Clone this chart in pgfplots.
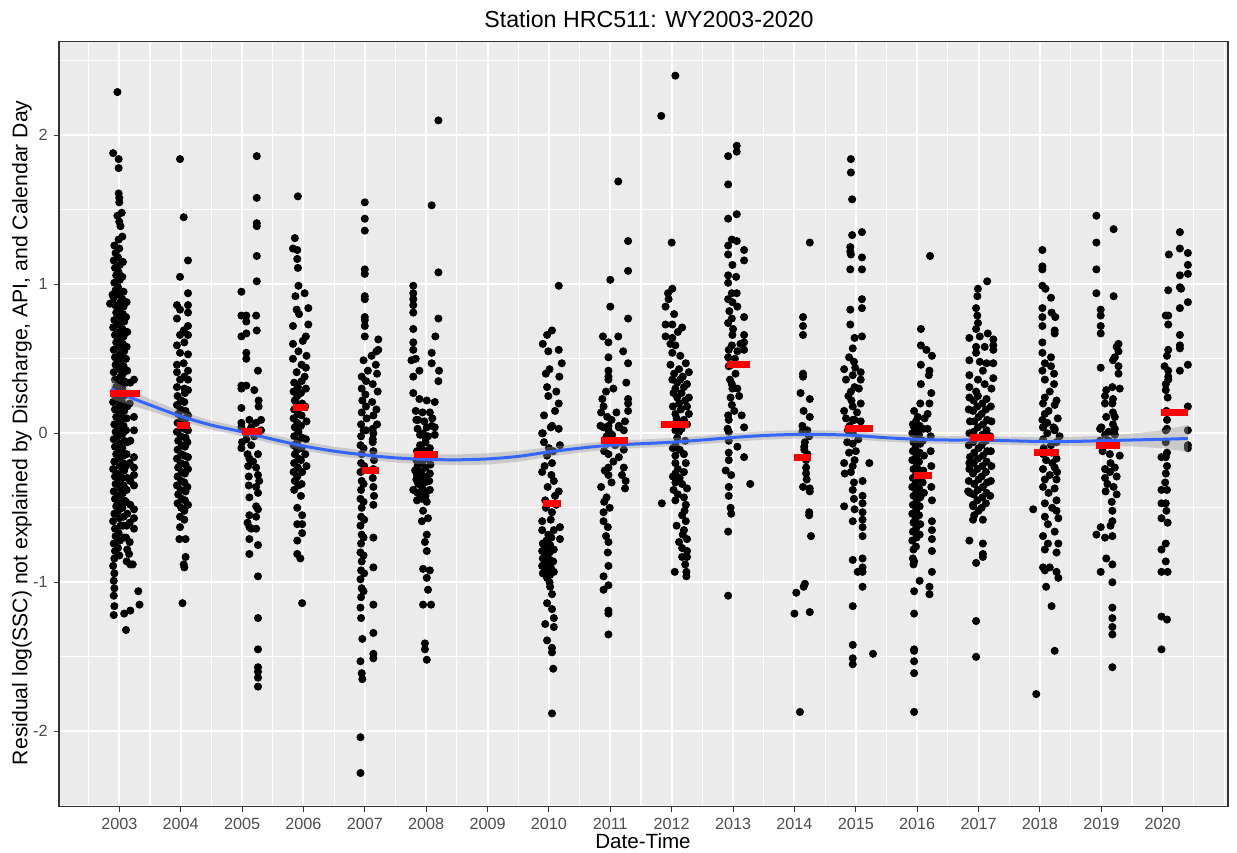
\documentclass[border=0pt]{standalone}
\usepackage{pgfplots}
\pgfplotsset{compat=1.18}
\usepackage{fontspec}
\setmainfont{Liberation Sans}
\definecolor{panelbg}{HTML}{EBEBEB}
\definecolor{gg30}{HTML}{4D4D4D}
\definecolor{gg20}{HTML}{333333}
\definecolor{ggblue}{HTML}{3366FF}
\definecolor{bandgrey}{HTML}{999999}
\pgfplotsset{pts/.style={only marks, mark=*, mark size=1.8pt, mark options={draw=black, fill=black}, forget plot},
  med/.style={red, line width=3.5pt, forget plot}}
\begin{document}
\begin{tikzpicture}
\path[use as bounding box] (-29.5pt,-22.65pt) rectangle (589pt,403.35pt);
\begin{axis}[
  at={(0,0)}, anchor=south west,
  scale only axis, width=584.5pt, height=382.5pt,
  xmin=2002.018, xmax=2021.064, ymin=-2.506, ymax=2.628,
  clip marker paths=true,
  axis background/.style={fill=panelbg},
  xtick={2003,2004,2005,2006,2007,2008,2009,2010,2011,2012,2013,2014,2015,2016,2017,2018,2019,2020},
  xticklabels={2003,2004,2005,2006,2007,2008,2009,2010,2011,2012,2013,2014,2015,2016,2017,2018,2019,2020},
  minor xtick={2002.5,2003.5,2004.5,2005.5,2006.5,2007.5,2008.5,2009.5,2010.5,2011.5,2012.5,2013.5,2014.5,2015.5,2016.5,2017.5,2018.5,2019.5,2020.5,2021},
  ytick={-2,-1,0,1,2}, yticklabels={-2,-1,0,1,2},
  minor ytick={-2.5,-1.5,-0.5,0.5,1.5,2.5},
  grid=both,
  major grid style={white, line width=1pt},
  minor grid style={white, line width=0.55pt},
  tick pos=left, tick align=outside,
  major tick length=2.5pt, minor tick length=0pt,
  tick style={gg20, line width=0.5pt},
  axis line style={gg20, line width=0.7pt},
  tick label style={font=\fontsize{8.1}{9.5}\selectfont, text=gg30},
  xticklabel style={anchor=north, inner sep=0pt, yshift=-3pt},
  yticklabel style={anchor=east, inner sep=0pt, xshift=-3pt},
]
% ---- 2003
\addplot[pts] table[row sep=\\] {x y\\
2002.97 2.29\\ 2002.90 1.88\\ 2002.99 1.84\\ 2002.99 1.78\\ 2002.99 1.61\\ 2003.00 1.58\\ 2003.00 1.55\\ 2003.04 1.48\\ 2002.97 1.46\\ 2003.00 1.42\\ 2003.02 1.39\\ 2003.05 1.32\\ 2002.99 1.30\\ 2002.85 0.87\\ 2002.89 0.93\\
2002.92 1.26\\ 2002.94 1.21\\ 2002.91 1.16\\ 2002.93 1.11\\ 2002.95 1.06\\ 2002.92 1.01\\ 2002.94 0.96\\ 2002.91 0.91\\ 2002.93 0.86\\ 2002.95 0.81\\ 2002.92 0.76\\ 2002.90 0.71\\ 2002.93 0.66\\ 2002.95 0.61\\ 2002.91 0.56\\ 2002.93 0.51\\ 2002.94 0.46\\ 2002.91 0.41\\ 2002.93 0.36\\ 2002.95 0.31\\ 2002.92 0.26\\ 2002.90 0.21\\ 2002.93 0.16\\ 2002.95 0.11\\ 2002.92 0.06\\ 2002.94 0.01\\ 2002.91 -0.04\\ 2002.93 -0.09\\ 2002.95 -0.14\\ 2002.92 -0.19\\ 2002.90 -0.24\\ 2002.93 -0.29\\ 2002.94 -0.34\\ 2002.91 -0.39\\ 2002.93 -0.44\\ 2002.95 -0.49\\ 2002.92 -0.54\\ 2002.90 -0.59\\ 2002.93 -0.64\\ 2002.94 -0.69\\ 2002.91 -0.74\\ 2002.93 -0.79\\ 2002.92 -0.84\\ 2002.90 -0.89\\ 2002.92 -0.94\\ 2002.91 -0.99\\ 2002.92 -1.04\\ 2002.91 -1.09\\ 2002.92 -1.16\\ 2002.91 -1.22\\
2003.00 1.24\\ 2002.98 1.18\\ 2003.01 1.13\\ 2002.99 1.08\\ 2003.01 1.03\\ 2002.98 0.98\\ 2003.00 0.93\\ 2003.02 0.88\\ 2002.99 0.83\\ 2003.01 0.78\\ 2002.98 0.73\\ 2003.00 0.68\\ 2003.02 0.63\\ 2002.99 0.58\\ 2003.01 0.53\\ 2002.98 0.48\\ 2003.00 0.43\\ 2003.02 0.38\\ 2002.99 0.33\\ 2003.01 0.28\\ 2002.98 0.23\\ 2003.00 0.18\\ 2003.02 0.13\\ 2002.99 0.08\\ 2003.01 0.03\\ 2002.98 -0.02\\ 2003.00 -0.07\\ 2003.02 -0.12\\ 2002.99 -0.17\\ 2003.01 -0.22\\ 2002.98 -0.27\\ 2003.00 -0.32\\ 2003.02 -0.37\\ 2002.99 -0.42\\ 2003.01 -0.47\\ 2002.98 -0.52\\ 2003.00 -0.57\\ 2003.02 -0.62\\ 2002.99 -0.67\\ 2003.01 -0.72\\ 2002.98 -0.77\\ 2003.00 -0.82\\
2003.06 1.15\\ 2003.05 1.05\\ 2003.07 0.95\\ 2003.05 0.90\\ 2003.07 0.85\\ 2003.06 0.80\\ 2003.08 0.75\\ 2003.05 0.70\\ 2003.07 0.65\\ 2003.06 0.60\\ 2003.08 0.55\\ 2003.05 0.50\\ 2003.07 0.45\\ 2003.06 0.40\\ 2003.08 0.35\\ 2003.05 0.30\\ 2003.07 0.25\\ 2003.06 0.20\\ 2003.08 0.15\\ 2003.05 0.10\\ 2003.07 0.05\\ 2003.06 0.00\\ 2003.08 -0.05\\ 2003.05 -0.10\\ 2003.07 -0.15\\ 2003.06 -0.20\\ 2003.08 -0.25\\ 2003.05 -0.30\\ 2003.07 -0.35\\ 2003.06 -0.40\\ 2003.08 -0.45\\ 2003.05 -0.50\\ 2003.07 -0.56\\ 2003.06 -0.62\\ 2003.08 -0.70\\
2003.12 0.88\\ 2003.11 0.78\\ 2003.13 0.68\\ 2003.12 0.58\\ 2003.11 0.50\\ 2003.13 0.42\\ 2003.12 0.34\\ 2003.11 0.26\\ 2003.13 0.18\\ 2003.12 0.10\\ 2003.11 0.02\\ 2003.13 -0.06\\ 2003.12 -0.14\\ 2003.11 -0.22\\ 2003.13 -0.30\\ 2003.12 -0.38\\ 2003.11 -0.46\\ 2003.13 -0.54\\ 2003.12 -0.62\\ 2003.11 -0.70\\ 2003.13 -0.78\\ 2003.12 -0.86\\
2003.18 0.34\\ 2003.17 0.20\\ 2003.18 -0.05\\ 2003.17 -0.20\\ 2003.18 -0.32\\ 2003.18 -0.48\\ 2003.17 -0.60\\ 2003.17 -0.73\\ 2003.16 -0.81\\ 2003.18 -0.88\\ 2003.18 -1.19\\
2003.24 0.36\\ 2003.24 0.11\\ 2003.24 0.02\\ 2003.24 -0.16\\ 2003.24 -0.23\\ 2003.24 -0.28\\ 2003.24 -0.35\\ 2003.24 -0.51\\ 2003.24 -0.57\\ 2003.24 -0.64\\ 2003.22 -0.88\\
2003.31 -1.06\\ 2003.33 -1.15\\ 2003.11 -1.32\\ 2003.08 -1.21\\
};
% ---- 2004
\addplot[pts] table[row sep=\\] {x y\\
2003.99 1.84\\ 2004.05 1.45\\ 2004.12 1.16\\ 2003.99 1.05\\ 2004.12 0.94\\ 2003.94 0.86\\ 2004.12 0.86\\ 2003.99 0.83\\ 2004.12 0.81\\ 2003.94 0.77\\ 2004.12 0.72\\ 2004.05 0.69\\ 2003.99 0.66\\ 2004.12 0.66\\ 2003.94 0.59\\ 2004.06 0.61\\ 2004.12 0.53\\ 2003.99 0.54\\ 2003.94 0.46\\ 2004.05 0.47\\ 2004.12 0.42\\ 2003.94 0.41\\ 2004.06 0.38\\ 2003.99 0.36\\ 2004.12 0.36\\ 2003.94 0.31\\ 2004.06 0.30\\ 2004.12 0.29\\
2003.95 0.25\\ 2003.94 0.19\\ 2003.96 0.13\\ 2003.95 0.07\\ 2003.94 0.01\\ 2003.96 -0.05\\ 2003.95 -0.11\\ 2003.94 -0.17\\ 2003.96 -0.23\\ 2003.95 -0.29\\ 2003.94 -0.35\\ 2003.96 -0.41\\ 2003.95 -0.47\\
2004.01 0.22\\ 2004.00 0.16\\ 2004.02 0.10\\ 2004.01 0.04\\ 2004.00 -0.02\\ 2004.02 -0.08\\ 2004.01 -0.14\\ 2004.00 -0.20\\ 2004.02 -0.26\\ 2004.01 -0.32\\ 2004.00 -0.38\\ 2004.02 -0.44\\ 2004.01 -0.50\\
2004.07 0.27\\ 2004.06 0.21\\ 2004.08 0.15\\ 2004.07 0.09\\ 2004.06 0.03\\ 2004.08 -0.03\\ 2004.07 -0.09\\ 2004.06 -0.15\\ 2004.08 -0.21\\ 2004.07 -0.27\\ 2004.06 -0.33\\ 2004.08 -0.39\\ 2004.07 -0.45\\ 2004.06 -0.52\\
2004.12 0.12\\ 2004.12 0.02\\ 2004.11 -0.06\\ 2004.12 -0.16\\ 2004.12 -0.24\\ 2004.11 -0.36\\ 2004.12 -0.48\\
2003.99 -0.56\\ 2003.99 -0.63\\ 2004.06 -0.58\\ 2003.98 -0.71\\ 2004.08 -0.71\\ 2004.08 -0.83\\ 2004.06 -0.90\\ 2004.03 -1.14\\ 2004.05 -0.88\\
};
% ---- 2005
\addplot[pts] table[row sep=\\] {x y\\
2005.24 1.86\\ 2005.24 1.58\\ 2005.24 1.41\\ 2005.24 1.39\\ 2005.24 1.19\\ 2005.24 1.02\\ 2004.99 0.95\\ 2004.99 0.79\\ 2005.07 0.79\\ 2005.23 0.79\\ 2005.07 0.75\\ 2005.24 0.69\\ 2004.99 0.65\\ 2005.07 0.67\\ 2005.07 0.54\\ 2005.07 0.50\\ 2005.26 0.42\\ 2004.99 0.32\\ 2005.07 0.32\\ 2004.99 0.30\\ 2005.20 0.29\\ 2005.27 0.22\\ 2005.27 0.18\\ 2004.99 0.17\\ 2005.12 0.09\\ 2004.99 0.07\\ 2005.15 0.04\\ 2005.23 0.07\\ 2005.31 0.09\\ 2005.31 0.02\\
2004.99 0.04\\ 2005.07 0.00\\ 2005.00 -0.06\\ 2004.99 -0.10\\ 2005.09 -0.14\\ 2005.12 -0.17\\ 2005.26 -0.14\\ 2005.23 -0.23\\ 2005.26 -0.28\\ 2005.11 -0.29\\ 2005.11 -0.35\\ 2005.23 -0.36\\ 2005.12 -0.43\\ 2005.26 -0.40\\ 2005.23 -0.49\\ 2005.26 -0.51\\ 2005.23 -0.56\\ 2005.12 -0.63\\ 2005.15 -0.64\\ 2005.23 -0.64\\ 2005.12 -0.71\\ 2005.26 -0.75\\ 2005.12 -0.81\\ 2005.26 -0.96\\ 2005.26 -1.24\\ 2005.26 -1.45\\ 2005.26 -1.57\\ 2005.26 -1.60\\ 2005.26 -1.64\\ 2005.26 -1.70\\
2005.07 -0.04\\ 2005.15 -0.08\\ 2005.20 -0.02\\ 2005.10 -0.22\\ 2005.18 -0.19\\ 2005.28 -0.32\\ 2005.12 -0.55\\ 2005.09 -0.60\\
};
% ---- 2006
\addplot[pts] table[row sep=\\] {x y\\
2005.91 1.59\\ 2005.86 1.31\\ 2005.83 1.24\\ 2005.90 1.23\\ 2005.90 1.17\\ 2005.91 1.11\\ 2005.92 0.99\\ 2005.87 0.92\\ 2006.02 0.94\\ 2006.08 0.84\\ 2005.89 0.83\\ 2005.93 0.80\\ 2005.83 0.72\\ 2006.08 0.73\\ 2006.04 0.65\\ 2005.83 0.60\\ 2005.99 0.62\\ 2005.92 0.55\\ 2006.05 0.52\\ 2005.83 0.50\\ 2005.97 0.46\\ 2006.04 0.44\\ 2005.89 0.41\\ 2006.02 0.38\\
2005.85 0.34\\ 2005.84 0.28\\ 2005.86 0.22\\ 2005.85 0.16\\ 2005.84 0.10\\ 2005.86 0.04\\ 2005.85 -0.02\\ 2005.84 -0.08\\ 2005.86 -0.14\\ 2005.85 -0.20\\ 2005.84 -0.26\\ 2005.86 -0.32\\ 2005.85 -0.38\\
2005.91 0.31\\ 2005.90 0.25\\ 2005.92 0.19\\ 2005.91 0.13\\ 2005.90 0.07\\ 2005.92 0.01\\ 2005.91 -0.05\\ 2005.90 -0.11\\ 2005.92 -0.17\\ 2005.91 -0.23\\ 2005.90 -0.29\\ 2005.92 -0.35\\
2005.97 0.35\\ 2005.96 0.27\\ 2005.98 0.20\\ 2005.97 0.12\\ 2005.96 0.05\\ 2005.98 -0.03\\ 2005.97 -0.10\\ 2005.96 -0.18\\ 2005.98 -0.26\\ 2005.97 -0.34\\ 2005.96 -0.42\\
2006.04 0.30\\ 2006.03 0.18\\ 2006.05 0.08\\ 2006.04 -0.04\\ 2006.03 -0.14\\ 2006.05 -0.22\\
2005.90 -0.50\\ 2005.98 -0.55\\ 2005.90 -0.61\\ 2005.98 -0.61\\ 2005.98 -0.67\\ 2005.90 -0.72\\ 2005.90 -0.81\\ 2005.95 -0.84\\ 2005.98 -1.14\\
};
% ---- 2007
\addplot[pts] table[row sep=\\] {x y\\
2007.00 1.55\\ 2007.00 1.44\\ 2007.00 1.36\\ 2007.00 1.10\\ 2007.00 1.07\\ 2007.00 0.92\\ 2007.00 0.90\\ 2007.00 0.78\\ 2007.00 0.76\\ 2007.00 0.72\\ 2007.00 0.65\\ 2006.98 0.49\\ 2007.22 0.63\\ 2007.11 0.52\\ 2007.19 0.55\\ 2007.22 0.56\\ 2007.18 0.46\\ 2007.05 0.42\\
2006.95 0.38\\ 2006.95 0.30\\ 2006.96 0.22\\ 2006.95 0.14\\ 2006.94 0.06\\
2007.02 0.35\\ 2007.01 0.26\\ 2007.02 0.18\\ 2007.03 0.10\\ 2007.02 0.02\\
2007.13 0.33\\ 2007.12 0.21\\ 2007.14 0.12\\ 2007.13 0.03\\ 2007.13 -0.04\\
2007.20 0.40\\ 2007.21 0.28\\ 2007.19 0.16\\ 2007.20 0.06\\
2006.94 -0.02\\ 2006.93 -0.08\\ 2006.95 -0.14\\ 2006.94 -0.20\\ 2006.93 -0.26\\ 2006.95 -0.32\\ 2006.94 -0.38\\ 2006.93 -0.44\\ 2006.95 -0.50\\ 2006.94 -0.56\\ 2006.93 -0.62\\ 2006.95 -0.68\\ 2006.94 -0.74\\ 2006.93 -0.80\\ 2006.95 -0.86\\ 2006.94 -0.92\\ 2006.93 -0.98\\ 2006.95 -1.04\\ 2006.94 -1.10\\ 2006.93 -1.17\\ 2006.94 -1.24\\
2006.98 0.02\\ 2006.98 -0.10\\ 2006.99 -0.22\\ 2006.98 -0.34\\ 2006.98 -0.46\\ 2006.99 -0.58\\ 2006.98 -0.70\\ 2006.98 -0.82\\ 2006.99 -0.94\\ 2006.98 -1.06\\
2007.14 0.00\\ 2007.13 -0.06\\ 2007.14 -0.12\\ 2007.15 -0.18\\ 2007.14 -0.24\\ 2007.13 -0.30\\ 2007.14 -0.36\\ 2007.15 -0.42\\ 2007.14 -0.48\\ 2007.14 -0.70\\ 2007.14 -0.90\\ 2007.14 -1.15\\ 2007.14 -1.34\\ 2007.14 -1.48\\ 2007.14 -1.51\\
2006.96 -1.38\\ 2006.93 -1.53\\ 2006.95 -1.61\\ 2006.96 -1.65\\ 2006.93 -2.04\\ 2006.93 -2.28\\
};
% ---- 2008
\addplot[pts] table[row sep=\\] {x y\\
2007.79 0.99\\ 2007.79 0.94\\ 2007.79 0.90\\ 2007.79 0.86\\ 2007.79 0.81\\ 2008.20 2.10\\ 2008.09 1.53\\ 2008.20 1.08\\ 2008.20 0.77\\ 2008.15 0.65\\ 2008.09 0.54\\ 2007.79 0.70\\ 2007.79 0.61\\ 2007.79 0.56\\ 2007.83 0.50\\ 2007.76 0.49\\ 2007.89 0.42\\ 2007.79 0.38\\ 2008.09 0.47\\ 2008.21 0.42\\ 2008.20 0.35\\ 2007.79 0.27\\ 2007.89 0.23\\ 2008.01 0.22\\ 2008.14 0.21\\ 2008.06 0.14\\ 2007.94 0.14\\ 2007.87 0.09\\ 2008.01 0.04\\ 2008.14 0.04\\ 2007.90 -0.01\\ 2008.03 -0.02\\
2007.84 0.09\\ 2008.09 0.05\\ 2007.95 0.00\\ 2008.14 -0.01\\ 2007.90 -0.08\\ 2007.82 -0.25\\ 2008.01 -0.29\\ 2007.87 -0.34\\ 2008.06 -0.38\\ 2007.79 -0.38\\ 2007.93 -0.44\\ 2008.01 -0.46\\ 2007.95 -0.52\\ 2008.03 -0.57\\ 2007.93 -0.59\\ 2008.01 -0.68\\ 2007.98 -0.73\\ 2008.01 -0.79\\ 2007.95 -0.91\\ 2008.06 -0.92\\ 2008.01 -0.97\\ 2008.03 -1.05\\ 2007.95 -1.15\\ 2008.08 -1.15\\ 2007.98 -1.41\\ 2007.98 -1.45\\ 2008.01 -1.52\\
2007.85 -0.12\\ 2007.84 -0.18\\ 2007.86 -0.22\\ 2007.85 -0.28\\ 2007.84 -0.31\\ 2007.86 -0.40\\ 2007.85 -0.45\\
2007.92 -0.10\\ 2007.91 -0.15\\ 2007.93 -0.20\\ 2007.92 -0.26\\ 2007.91 -0.30\\ 2007.93 -0.36\\ 2007.92 -0.41\\
2007.99 -0.06\\ 2007.98 -0.12\\ 2008.00 -0.17\\ 2007.99 -0.23\\ 2007.98 -0.33\\ 2008.00 -0.39\\ 2007.99 -0.42\\
2008.06 -0.10\\ 2008.05 -0.16\\ 2008.07 -0.21\\ 2008.06 -0.27\\ 2008.05 -0.32\\
2007.83 0.15\\ 2007.97 0.08\\ 2008.10 0.10\\ 2007.86 0.03\\ 2007.99 -0.03\\
};
% ---- 2010
\addplot[pts] table[row sep=\\] {x y\\
2010.16 0.99\\ 2010.05 0.69\\ 2009.97 0.66\\ 2009.90 0.60\\ 2009.99 0.55\\ 2010.16 0.56\\ 2010.21 0.47\\ 2010.01 0.43\\ 2009.97 0.31\\ 2010.17 0.38\\ 2009.99 0.25\\ 2010.16 0.20\\ 2009.89 0.00\\ 2010.03 0.04\\ 2010.16 0.03\\
2009.90 0.00\\ 2010.05 0.05\\ 2010.18 -0.08\\ 2009.97 -0.15\\ 2010.05 -0.20\\ 2009.89 -0.26\\ 2010.08 -0.32\\ 2010.16 -0.39\\ 2009.94 -0.45\\ 2010.05 -0.53\\ 2009.89 -0.59\\ 2010.18 -0.63\\ 2009.89 -0.65\\ 2010.08 -0.65\\ 2010.18 -0.71\\ 2009.89 -0.79\\
2009.90 -0.74\\ 2009.91 -0.79\\ 2009.90 -0.84\\ 2009.89 -0.89\\ 2009.90 -0.94\\
2009.96 -0.72\\ 2009.97 -0.77\\ 2009.96 -0.82\\ 2009.95 -0.87\\ 2009.96 -0.92\\ 2009.97 -0.97\\
2010.02 -0.75\\ 2010.01 -0.80\\ 2010.02 -0.85\\ 2010.03 -0.90\\ 2010.02 -0.95\\ 2010.01 -1.00\\
2010.08 -0.78\\ 2010.07 -0.86\\ 2010.08 -0.93\\
2010.00 -0.10\\ 2009.93 -0.22\\ 2010.04 -0.28\\ 2009.98 -0.36\\ 2010.10 -0.42\\ 2009.95 -0.50\\ 2010.03 -0.58\\ 2010.12 -0.48\\ 2009.92 -0.06\\ 2010.07 -0.12\\ 2009.99 -0.68\\ 2010.04 -0.70\\
2010.02 -1.03\\ 2010.05 -1.08\\ 2009.97 -1.14\\ 2010.05 -1.18\\ 2010.08 -1.24\\ 2009.94 -1.28\\ 2010.08 -1.30\\ 2009.97 -1.39\\ 2010.05 -1.44\\ 2010.05 -1.47\\ 2010.07 -1.58\\ 2010.05 -1.88\\
2009.92 0.12\\ 2010.10 0.15\\ 2009.95 0.40\\ 2010.12 0.28\\
};
% ---- 2011
\addplot[pts] table[row sep=\\] {x y\\
2011.13 1.69\\ 2011.29 1.29\\ 2011.29 1.09\\ 2011.00 1.03\\ 2011.00 0.85\\ 2011.29 0.77\\ 2010.88 0.65\\ 2011.13 0.65\\ 2010.97 0.61\\ 2011.21 0.55\\ 2010.97 0.51\\ 2011.29 0.47\\ 2010.97 0.42\\ 2010.97 0.38\\ 2011.26 0.34\\ 2010.97 0.36\\ 2011.29 0.23\\ 2010.87 0.23\\ 2011.29 0.20\\ 2011.29 0.15\\ 2010.89 0.18\\ 2010.95 0.11\\ 2010.85 0.14\\ 2010.89 0.04\\ 2011.14 0.04\\ 2010.97 0.02\\ 2011.22 0.02\\ 2010.94 -0.02\\
2010.84 0.05\\ 2010.97 0.05\\ 2011.14 0.05\\ 2011.22 -0.11\\ 2010.95 -0.07\\ 2010.97 -0.14\\ 2011.14 -0.16\\ 2010.97 -0.23\\ 2011.22 -0.23\\ 2010.97 -0.28\\ 2011.25 -0.32\\ 2011.24 -0.37\\ 2010.85 -0.36\\ 2010.94 -0.43\\ 2010.89 -0.53\\ 2010.89 -0.59\\ 2010.96 -0.63\\ 2010.93 -0.69\\ 2010.97 -0.73\\ 2010.96 -0.80\\ 2010.97 -0.89\\ 2010.89 -0.96\\ 2010.97 -1.02\\ 2010.89 -1.05\\ 2010.97 -1.19\\ 2010.97 -1.21\\ 2010.97 -1.35\\
2010.92 -0.04\\ 2011.03 -0.01\\ 2011.08 -0.08\\ 2010.90 -0.12\\ 2011.18 -0.06\\ 2011.05 -0.19\\ 2010.91 -0.25\\ 2011.19 -0.28\\ 2011.02 0.09\\ 2011.10 0.14\\ 2011.24 0.08\\ 2010.93 0.28\\ 2011.05 0.30\\ 2011.02 -0.33\\ 2010.90 -0.46\\ 2010.99 -0.50\\
};
% ---- 2012
\addplot[pts] table[row sep=\\] {x y\\
2012.06 2.40\\ 2011.83 2.13\\ 2012.00 1.28\\ 2012.01 0.97\\ 2011.94 0.94\\ 2011.90 0.85\\ 2011.90 0.73\\ 2012.01 0.73\\ 2012.17 0.71\\ 2011.90 0.65\\ 2012.01 0.64\\ 2012.06 0.59\\ 2012.01 0.54\\ 2012.14 0.52\\ 2012.23 0.47\\ 2011.98 0.46\\ 2012.12 0.43\\ 2012.28 0.41\\ 2012.01 0.36\\ 2012.14 0.36\\ 2012.25 0.33\\ 2012.06 0.30\\ 2012.20 0.31\\ 2012.09 0.24\\ 2012.28 0.24\\ 2012.12 0.20\\ 2012.25 0.18\\ 2012.06 0.13\\ 2012.28 0.13\\ 2012.25 0.06\\ 2012.12 0.01\\
2012.06 0.02\\ 2012.06 -0.08\\ 2012.06 -0.15\\ 2012.20 -0.14\\ 2012.06 -0.20\\ 2012.23 -0.20\\ 2012.06 -0.27\\ 2012.20 -0.26\\ 2012.06 -0.33\\ 2012.17 -0.34\\ 2012.03 -0.38\\ 2012.20 -0.43\\ 2012.06 -0.45\\ 2012.23 -0.48\\ 2012.17 -0.55\\ 2012.23 -0.59\\ 2012.20 -0.65\\ 2012.25 -0.71\\ 2012.17 -0.77\\ 2012.25 -0.79\\ 2012.17 -0.83\\ 2012.25 -0.83\\ 2012.05 -0.93\\ 2012.24 -0.93\\ 2012.24 -0.96\\ 2011.84 -0.47\\
2012.04 0.40\\ 2012.18 0.38\\ 2012.09 0.34\\ 2012.03 0.27\\ 2012.16 0.27\\ 2012.22 0.22\\ 2012.02 0.18\\ 2012.15 0.16\\ 2012.08 0.10\\ 2012.20 0.09\\ 2012.03 0.06\\ 2012.16 0.03\\ 2012.09 -0.03\\ 2012.22 -0.05\\ 2012.02 -0.10\\ 2012.13 -0.11\\ 2012.10 -0.24\\ 2012.02 -0.29\\ 2012.13 -0.30\\ 2012.25 -0.37\\ 2012.10 -0.41\\ 2012.21 -0.52\\ 2012.08 -0.62\\ 2012.18 -0.68\\ 2012.12 -0.73\\ 2012.22 -0.88\\ 2011.95 0.90\\ 2012.04 0.80\\ 2012.10 0.68\\ 2011.98 0.60\\
};
% ---- 2013
\addplot[pts] table[row sep=\\] {x y\\
2013.06 1.93\\ 2012.92 1.86\\ 2013.06 1.89\\ 2012.92 1.67\\ 2013.06 1.47\\ 2012.92 1.44\\ 2012.98 1.30\\ 2013.06 1.29\\ 2012.92 1.26\\ 2013.18 1.23\\ 2012.92 1.20\\ 2013.18 1.16\\ 2012.99 1.13\\ 2012.92 1.06\\ 2012.92 1.01\\ 2012.98 0.94\\ 2013.06 0.94\\ 2012.99 0.88\\ 2013.07 0.85\\ 2012.92 0.90\\ 2013.18 0.78\\ 2012.98 0.77\\ 2012.92 0.74\\ 2012.99 0.66\\ 2013.18 0.66\\ 2013.18 0.61\\ 2013.12 0.60\\ 2012.98 0.59\\ 2012.93 0.56\\ 2013.18 0.56\\ 2013.07 0.55\\ 2012.92 0.51\\ 2012.98 0.46\\ 2012.93 0.45\\ 2012.98 0.33\\ 2012.99 0.30\\ 2013.07 0.30\\ 2012.98 0.19\\ 2012.92 0.12\\ 2012.93 0.09\\ 2013.18 0.04\\ 2012.91 0.03\\
2012.93 0.01\\ 2012.93 -0.05\\ 2013.07 -0.09\\ 2012.93 -0.13\\ 2013.18 -0.16\\ 2012.93 -0.18\\ 2012.88 -0.25\\ 2012.97 -0.28\\ 2013.28 -0.34\\ 2012.93 -0.36\\ 2012.93 -0.42\\ 2012.96 -0.50\\ 2012.97 -0.54\\ 2012.92 -0.66\\ 2012.92 -1.09\\
2013.00 0.70\\ 2013.04 0.40\\ 2012.95 0.36\\ 2013.10 0.25\\ 2012.96 0.24\\ 2013.02 0.15\\ 2013.14 0.12\\ 2013.03 0.50\\ 2012.94 0.82\\ 2013.05 1.05\\
};
% ---- 2014
\addplot[pts] table[row sep=\\] {x y\\
2014.25 1.28\\ 2014.14 0.78\\ 2014.14 0.72\\ 2014.14 0.66\\ 2014.14 0.40\\ 2014.14 0.38\\ 2014.10 0.27\\ 2014.25 0.23\\ 2014.25 0.11\\ 2014.13 0.05\\ 2014.21 0.02\\ 2014.13 0.01\\ 2014.19 0.01\\ 2014.24 -0.02\\ 2014.17 -0.06\\ 2014.16 -0.09\\ 2014.21 -0.14\\ 2014.19 -0.18\\ 2014.19 -0.23\\ 2014.19 -0.27\\ 2014.14 -0.36\\ 2014.25 -0.37\\ 2014.25 -0.39\\ 2014.24 -0.53\\ 2014.24 -0.55\\ 2014.27 -0.69\\ 2014.17 -1.01\\ 2014.15 -1.03\\ 2014.03 -1.07\\ 2014.00 -1.21\\ 2014.25 -1.20\\ 2014.09 -1.87\\
2014.16 -0.11\\ 2014.20 -0.31\\ 2014.15 0.15\\
};
% ---- 2015
\addplot[pts] table[row sep=\\] {x y\\
2014.92 1.84\\ 2014.92 1.75\\ 2014.94 1.57\\ 2014.94 1.33\\ 2015.10 1.35\\ 2014.91 1.25\\ 2014.91 1.22\\ 2014.92 1.20\\ 2015.10 1.18\\ 2014.91 1.10\\ 2015.10 1.10\\ 2015.10 0.90\\ 2015.10 0.84\\ 2014.91 0.83\\ 2014.91 0.73\\ 2015.10 0.65\\ 2014.98 0.64\\ 2014.95 0.57\\ 2014.89 0.51\\ 2014.81 0.43\\ 2014.97 0.48\\ 2015.08 0.41\\ 2014.95 0.39\\ 2014.84 0.36\\ 2015.08 0.36\\ 2014.98 0.31\\ 2014.92 0.28\\ 2015.08 0.20\\ 2014.81 0.15\\ 2014.95 0.18\\ 2014.84 0.10\\ 2014.98 0.09\\ 2015.08 0.08\\ 2014.87 0.02\\
2014.95 0.09\\ 2014.95 0.00\\ 2014.95 -0.07\\ 2014.89 -0.13\\ 2014.98 -0.18\\ 2014.81 -0.20\\ 2015.22 -0.20\\ 2014.95 -0.22\\ 2014.92 -0.26\\ 2014.82 -0.27\\ 2015.11 -0.32\\ 2014.97 -0.33\\ 2014.95 -0.38\\ 2015.11 -0.42\\ 2014.97 -0.44\\ 2014.81 -0.49\\ 2015.11 -0.47\\ 2014.98 -0.51\\ 2015.11 -0.53\\ 2014.95 -0.59\\ 2015.11 -0.58\\ 2015.11 -0.63\\ 2015.11 -0.69\\ 2014.95 -0.85\\ 2015.11 -0.84\\ 2015.11 -0.90\\ 2015.03 -0.93\\ 2015.11 -0.93\\ 2015.11 -1.03\\ 2014.95 -1.16\\ 2014.95 -1.42\\ 2014.95 -1.51\\ 2014.95 -1.55\\ 2015.28 -1.48\\
2014.88 0.25\\ 2015.02 0.14\\ 2014.90 0.05\\ 2015.04 -0.04\\ 2014.86 -0.06\\ 2015.00 -0.12\\ 2014.93 0.22\\ 2015.05 0.30\\ 2014.99 0.44\\
};
% ---- 2016
\addplot[pts] table[row sep=\\] {x y\\
2016.21 1.19\\ 2016.06 0.70\\ 2016.06 0.59\\ 2016.15 0.56\\ 2016.24 0.52\\ 2016.06 0.46\\ 2016.20 0.42\\ 2016.19 0.39\\ 2016.06 0.33\\ 2016.23 0.27\\ 2016.05 0.20\\ 2016.20 0.20\\ 2015.95 0.15\\ 2016.17 0.13\\ 2016.01 0.11\\ 2016.12 0.10\\ 2015.95 0.04\\ 2016.17 0.03\\
2015.93 0.06\\ 2015.92 0.00\\ 2015.94 -0.06\\ 2015.93 -0.12\\ 2015.92 -0.18\\ 2015.94 -0.24\\ 2015.93 -0.30\\ 2015.92 -0.36\\ 2015.94 -0.42\\ 2015.93 -0.48\\ 2015.92 -0.54\\ 2015.94 -0.60\\ 2015.93 -0.66\\ 2015.92 -0.72\\ 2015.94 -0.78\\ 2015.93 -0.84\\
2015.98 0.08\\ 2015.99 0.02\\ 2015.98 -0.04\\ 2015.97 -0.10\\ 2015.98 -0.16\\ 2015.99 -0.22\\ 2015.98 -0.28\\ 2015.97 -0.34\\ 2015.98 -0.40\\ 2015.99 -0.46\\ 2015.98 -0.52\\ 2015.97 -0.58\\ 2015.98 -0.64\\ 2015.99 -0.70\\ 2015.98 -0.76\\
2016.04 0.05\\ 2016.03 -0.01\\ 2016.05 -0.07\\ 2016.04 -0.13\\ 2016.03 -0.19\\ 2016.05 -0.25\\ 2016.04 -0.31\\ 2016.03 -0.37\\ 2016.05 -0.43\\ 2016.04 -0.49\\ 2016.03 -0.55\\ 2016.05 -0.61\\ 2016.04 -0.68\\
2016.10 0.03\\ 2016.09 -0.05\\ 2016.11 -0.15\\ 2016.10 -0.25\\ 2016.09 -0.33\\ 2016.11 -0.40\\
2016.23 -0.36\\ 2016.24 -0.45\\ 2016.24 -0.59\\ 2016.24 -0.65\\ 2016.24 -0.71\\ 2016.24 -0.79\\ 2016.24 -0.93\\ 2016.04 -0.99\\ 2016.20 -1.03\\ 2016.20 -1.08\\ 2016.22 -0.12\\ 2016.23 -0.22\\ 2016.22 -0.02\\
2015.95 -1.06\\ 2015.95 -1.21\\ 2015.95 -1.45\\ 2015.95 -1.46\\ 2015.95 -1.53\\ 2015.95 -1.61\\ 2015.95 -1.87\\ 2015.95 -0.86\\ 2015.94 -0.88\\
};
% ---- 2017
\addplot[pts] table[row sep=\\] {x y\\
2017.14 1.02\\ 2016.99 0.97\\ 2016.98 0.92\\ 2016.96 0.84\\ 2016.98 0.79\\ 2016.99 0.74\\ 2016.96 0.70\\ 2017.15 0.67\\ 2016.85 0.64\\ 2017.02 0.65\\ 2017.24 0.63\\ 2017.24 0.59\\ 2016.96 0.58\\ 2017.10 0.58\\ 2017.24 0.56\\ 2016.96 0.54\\ 2016.85 0.49\\ 2017.02 0.48\\ 2017.24 0.47\\ 2017.13 0.47\\ 2017.07 0.42\\ 2016.85 0.39\\ 2017.24 0.37\\ 2016.99 0.36\\ 2017.10 0.33\\ 2016.85 0.31\\ 2016.96 0.28\\ 2017.21 0.30\\
2016.85 0.24\\ 2016.84 0.16\\ 2016.86 0.08\\ 2016.85 0.00\\ 2016.84 -0.08\\ 2016.86 -0.16\\ 2016.85 -0.24\\ 2016.84 -0.32\\ 2016.86 -0.40\\
2016.92 0.22\\ 2016.91 0.15\\ 2016.93 0.08\\ 2016.92 0.01\\ 2016.91 -0.06\\ 2016.93 -0.13\\ 2016.92 -0.20\\ 2016.91 -0.27\\ 2016.93 -0.34\\ 2016.92 -0.41\\ 2016.91 -0.48\\ 2016.93 -0.55\\
2016.99 0.25\\ 2016.98 0.18\\ 2017.00 0.11\\ 2016.99 0.04\\ 2016.98 -0.03\\ 2017.00 -0.10\\ 2016.99 -0.17\\ 2016.98 -0.24\\ 2017.00 -0.31\\ 2016.99 -0.38\\ 2016.98 -0.45\\ 2017.00 -0.52\\
2017.06 0.20\\ 2017.05 0.13\\ 2017.07 0.06\\ 2017.06 -0.01\\ 2017.05 -0.08\\ 2017.07 -0.15\\ 2017.06 -0.22\\ 2017.05 -0.29\\ 2017.07 -0.36\\ 2017.06 -0.43\\ 2017.05 -0.50\\ 2017.07 -0.58\\
2017.13 0.23\\ 2017.12 0.16\\ 2017.14 0.09\\ 2017.13 0.02\\ 2017.12 -0.05\\ 2017.14 -0.12\\ 2017.13 -0.19\\ 2017.12 -0.26\\ 2017.14 -0.33\\ 2017.13 -0.40\\ 2017.12 -0.47\\
2017.20 0.18\\ 2017.21 0.08\\ 2017.19 -0.02\\ 2017.20 -0.12\\ 2017.21 -0.22\\ 2017.20 -0.32\\ 2017.19 -0.42\\
2016.85 -0.20\\ 2016.83 -0.39\\ 2016.91 -0.49\\ 2016.91 -0.58\\ 2016.85 -0.72\\ 2017.07 -0.74\\ 2017.07 -0.81\\ 2017.07 -0.83\\ 2016.96 -0.87\\ 2016.96 -1.26\\ 2016.96 -1.50\\
};
% ---- 2018
\addplot[pts] table[row sep=\\] {x y\\
2018.04 1.23\\ 2018.04 1.12\\ 2018.04 1.10\\ 2018.04 0.99\\ 2018.09 0.97\\ 2018.18 0.91\\ 2018.04 0.84\\ 2018.19 0.81\\ 2018.04 0.78\\ 2018.25 0.78\\ 2018.04 0.72\\ 2018.24 0.69\\ 2018.24 0.67\\ 2018.04 0.61\\ 2018.04 0.54\\ 2018.18 0.51\\ 2018.08 0.47\\ 2018.18 0.45\\ 2018.04 0.42\\ 2018.23 0.40\\ 2018.08 0.36\\ 2018.23 0.33\\ 2018.16 0.28\\ 2018.08 0.24\\ 2018.27 0.22\\ 2018.05 0.20\\ 2018.24 0.19\\ 2018.14 0.15\\ 2018.08 0.13\\ 2018.29 0.10\\ 2018.05 0.04\\ 2018.22 0.04\\ 2018.24 0.02\\ 2018.32 -0.02\\
2018.04 0.09\\ 2018.05 0.04\\ 2018.24 0.03\\ 2018.05 -0.04\\ 2018.27 -0.06\\ 2018.19 -0.13\\ 2018.05 -0.14\\ 2018.27 -0.17\\ 2018.24 -0.23\\ 2018.05 -0.24\\ 2018.16 -0.28\\ 2018.08 -0.31\\ 2018.27 -0.31\\ 2018.05 -0.36\\ 2018.24 -0.37\\ 2018.27 -0.45\\ 2018.08 -0.47\\ 2017.89 -0.51\\ 2018.27 -0.52\\ 2018.08 -0.56\\ 2018.30 -0.57\\ 2018.13 -0.61\\ 2018.24 -0.66\\ 2018.05 -0.69\\ 2018.13 -0.74\\ 2018.30 -0.74\\ 2018.08 -0.78\\ 2018.27 -0.80\\ 2018.05 -0.90\\ 2018.16 -0.90\\ 2018.08 -0.92\\ 2018.27 -0.93\\ 2018.30 -0.97\\ 2018.10 -1.03\\ 2018.19 -1.16\\ 2018.24 -1.46\\ 2017.94 -1.75\\
2018.12 0.00\\ 2018.18 -0.08\\ 2018.10 -0.18\\ 2018.20 -0.20\\ 2018.14 -0.40\\ 2018.20 -0.50\\ 2018.12 0.07\\ 2018.28 -0.26\\ 2018.06 -0.10\\
};
% ---- 2019
\addplot[pts] table[row sep=\\] {x y\\
2018.92 1.46\\ 2019.20 1.37\\ 2018.92 1.28\\ 2018.92 1.10\\ 2018.92 0.94\\ 2019.20 0.92\\ 2018.99 0.83\\ 2018.99 0.79\\ 2018.99 0.72\\ 2018.99 0.67\\ 2019.28 0.60\\ 2019.25 0.58\\ 2019.28 0.55\\ 2019.22 0.51\\ 2019.19 0.49\\ 2019.28 0.45\\ 2018.99 0.44\\ 2019.28 0.40\\ 2019.18 0.31\\ 2019.30 0.30\\ 2019.08 0.29\\ 2019.06 0.25\\ 2019.19 0.23\\ 2019.06 0.20\\ 2019.18 0.20\\ 2019.19 0.14\\ 2019.08 0.11\\ 2019.22 0.11\\ 2019.19 0.06\\ 2018.98 0.03\\ 2019.06 -0.01\\ 2019.22 -0.01\\
2019.00 0.04\\ 2019.22 0.03\\ 2018.98 -0.05\\ 2019.22 -0.08\\ 2019.14 -0.14\\ 2019.30 -0.15\\ 2019.06 -0.24\\ 2019.22 -0.23\\ 2019.25 -0.29\\ 2019.06 -0.30\\ 2019.07 -0.39\\ 2019.25 -0.41\\ 2019.17 -0.46\\ 2019.18 -0.52\\ 2019.18 -0.59\\ 2018.99 -0.63\\ 2018.92 -0.68\\ 2019.06 -0.70\\ 2019.18 -0.69\\ 2019.08 -0.84\\ 2019.18 -0.88\\ 2018.99 -0.93\\ 2019.18 -1.00\\ 2019.18 -1.17\\ 2019.18 -1.24\\ 2019.18 -1.30\\ 2019.18 -1.35\\ 2019.18 -1.57\\
2019.12 -0.05\\ 2019.02 -0.12\\ 2019.15 -0.20\\ 2019.10 -0.34\\ 2019.20 -0.36\\ 2019.15 -0.62\\ 2019.12 0.01\\ 2019.14 -0.26\\
};
% ---- 2020
\addplot[pts] table[row sep=\\] {x y\\
2020.28 1.35\\ 2020.28 1.24\\ 2020.10 1.20\\ 2020.41 1.21\\ 2020.41 1.13\\ 2020.41 1.07\\ 2020.28 1.06\\ 2020.09 0.96\\ 2020.28 0.98\\ 2020.30 0.97\\ 2020.41 0.88\\ 2020.28 0.84\\ 2020.05 0.79\\ 2020.09 0.79\\ 2020.09 0.73\\ 2020.28 0.66\\ 2020.28 0.59\\ 2020.28 0.57\\ 2020.09 0.56\\ 2020.07 0.52\\ 2020.41 0.46\\ 2020.28 0.42\\ 2020.09 0.42\\ 2020.09 0.38\\ 2020.05 0.33\\ 2020.05 0.29\\ 2020.09 0.36\\ 2020.41 0.18\\ 2020.07 0.09\\ 2020.41 0.02\\ 2020.07 0.03\\
2020.41 -0.08\\ 2020.41 -0.10\\ 2020.05 0.02\\ 2020.05 -0.06\\ 2020.07 -0.13\\ 2020.05 -0.16\\ 2019.98 -0.16\\ 2020.07 -0.22\\ 2020.05 -0.27\\ 2019.98 -0.38\\ 2020.07 -0.38\\ 2019.98 -0.47\\ 2020.05 -0.47\\ 2019.98 -0.57\\ 2020.08 -0.60\\ 2020.05 -0.74\\ 2019.98 -0.78\\ 2020.05 -0.86\\ 2019.98 -0.93\\ 2020.08 -0.93\\ 2019.98 -1.23\\ 2020.07 -1.25\\ 2019.98 -1.45\\
2020.06 0.15\\ 2020.08 0.24\\ 2020.04 -0.33\\ 2020.06 -0.52\\ 2020.03 0.45\\
};
% ---- loess confidence band
\addplot[fill=bandgrey, fill opacity=0.4, draw=none, forget plot] coordinates {
(2002.87,0.370) (2003.0,0.328) (2003.5,0.230) (2004.0,0.147) (2004.5,0.085) (2005.0,0.040) (2005.5,-0.010) (2006.0,-0.055) (2006.5,-0.090) (2007.0,-0.115) (2007.5,-0.133) (2008.0,-0.142) (2008.5,-0.142) (2009.0,-0.134) (2009.5,-0.119) (2010.0,-0.093) (2010.5,-0.070) (2011.0,-0.052) (2011.5,-0.042) (2012.0,-0.032) (2012.5,-0.017) (2013.0,0.000) (2013.5,0.013) (2014.0,0.020) (2014.5,0.020) (2015.0,0.012) (2015.5,-0.004) (2016.0,-0.014) (2016.5,-0.019) (2017.0,-0.019) (2017.5,-0.023) (2018.0,-0.027) (2018.5,-0.025) (2019.0,-0.016) (2019.5,-0.002) (2020.0,0.020) (2020.41,0.055)
(2020.41,-0.125) (2020.0,-0.100) (2019.5,-0.088) (2019.0,-0.084) (2018.5,-0.085) (2018.0,-0.083) (2017.5,-0.077) (2017.0,-0.071) (2016.5,-0.071) (2016.0,-0.066) (2015.5,-0.056) (2015.0,-0.042) (2014.5,-0.036) (2014.0,-0.036) (2013.5,-0.043) (2013.0,-0.056) (2012.5,-0.073) (2012.0,-0.088) (2011.5,-0.098) (2011.0,-0.108) (2010.5,-0.130) (2010.0,-0.157) (2009.5,-0.191) (2009.0,-0.210) (2008.5,-0.214) (2008.0,-0.208) (2007.5,-0.197) (2007.0,-0.175) (2006.5,-0.150) (2006.0,-0.115) (2005.5,-0.070) (2005.0,-0.020) (2004.5,0.025) (2004.0,0.083) (2003.5,0.150) (2003.0,0.212) (2002.87,0.230)
} -- cycle;
% ---- loess line
\addplot[ggblue, line width=1.5pt, smooth, forget plot] coordinates {
(2002.87,0.300) (2003.0,0.270) (2003.5,0.190) (2004.0,0.115) (2004.5,0.055) (2005.0,0.010) (2005.5,-0.040) (2006.0,-0.085) (2006.5,-0.120) (2007.0,-0.145) (2007.5,-0.165) (2008.0,-0.175) (2008.5,-0.178) (2009.0,-0.172) (2009.5,-0.155) (2010.0,-0.125) (2010.5,-0.100) (2011.0,-0.080) (2011.5,-0.070) (2012.0,-0.060) (2012.5,-0.045) (2013.0,-0.028) (2013.5,-0.015) (2014.0,-0.008) (2014.5,-0.008) (2015.0,-0.015) (2015.5,-0.030) (2016.0,-0.040) (2016.5,-0.045) (2017.0,-0.045) (2017.5,-0.050) (2018.0,-0.055) (2018.5,-0.055) (2019.0,-0.050) (2019.5,-0.045) (2020.0,-0.040) (2020.41,-0.035)
};
% ---- annual medians
\addplot[med] coordinates {(2002.85,0.27) (2003.33,0.27)};
\addplot[med] coordinates {(2003.94,0.05) (2004.15,0.05)};
\addplot[med] coordinates {(2005.00,0.01) (2005.33,0.01)};
\addplot[med] coordinates {(2005.83,0.17) (2006.08,0.17)};
\addplot[med] coordinates {(2006.95,-0.25) (2007.23,-0.25)};
\addplot[med] coordinates {(2007.80,-0.14) (2008.20,-0.14)};
\addplot[med] coordinates {(2009.90,-0.47) (2010.20,-0.47)};
\addplot[med] coordinates {(2010.85,-0.05) (2011.29,-0.05)};
\addplot[med] coordinates {(2011.82,0.06) (2012.29,0.06)};
\addplot[med] coordinates {(2012.90,0.46) (2013.28,0.46)};
\addplot[med] coordinates {(2014.00,-0.16) (2014.27,-0.16)};
\addplot[med] coordinates {(2014.83,0.03) (2015.28,0.03)};
\addplot[med] coordinates {(2015.94,-0.28) (2016.24,-0.28)};
\addplot[med] coordinates {(2016.86,-0.03) (2017.25,-0.03)};
\addplot[med] coordinates {(2017.90,-0.13) (2018.31,-0.13)};
\addplot[med] coordinates {(2018.92,-0.08) (2019.30,-0.08)};
\addplot[med] coordinates {(2019.97,0.14) (2020.41,0.14)};
\end{axis}
\node[font=\fontsize{11.6}{13}\selectfont, anchor=base, inner sep=0pt] at (295pt,389.7pt) {Station HRC511: WY2003-2020};
\node[font=\fontsize{10.3}{12}\selectfont, inner sep=0pt] at (292pt,-17.4pt) {Date-Time};
\node[font=\fontsize{10.6}{12}\selectfont, rotate=90, inner sep=0pt] at (-18.5pt,187pt) {Residual log(SSC) not explained by Discharge, API, and Calendar Day};
\end{tikzpicture}
\end{document}
